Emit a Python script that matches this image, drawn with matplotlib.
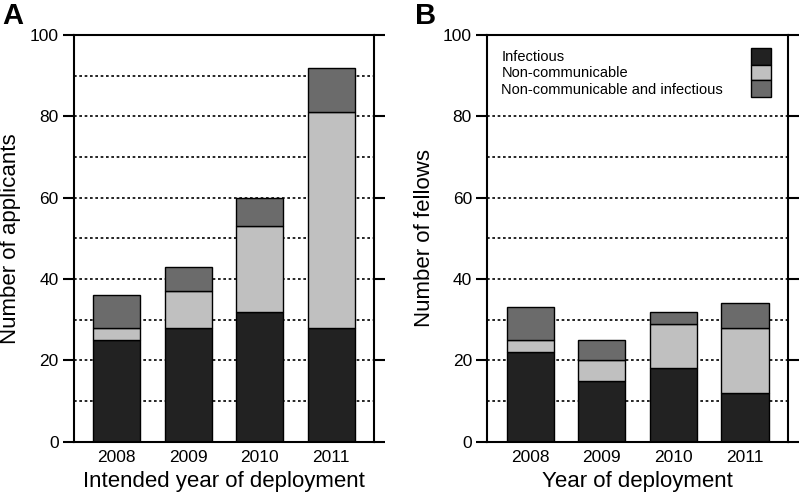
import matplotlib
matplotlib.use("Agg")
import matplotlib.pyplot as plt
from matplotlib.patches import Rectangle

plt.rcParams['font.family'] = ['Liberation Sans', 'DejaVu Sans']

years = ["2008", "2009", "2010", "2011"]
categories = ["Infectious", "Non-communicable", "Non-communicable and infectious"]
colors = ["#222222", "#c0c0c0", "#6b6b6b"]

app_infectious = [25, 28, 32, 28]
app_noncomm = [3, 9, 21, 53]
app_both = [8, 6, 7, 11]

fel_infectious = [22, 15, 18, 12]
fel_noncomm = [3, 5, 11, 16]
fel_both = [8, 5, 3, 6]

fig = plt.figure(figsize=(8, 5), dpi=100)
axA = fig.add_axes([0.0925, 0.1166, 0.375, 0.8134])
axB = fig.add_axes([0.609, 0.1166, 0.376, 0.8134])


def draw(ax, series, ylabel, xlabel):
    x = list(range(len(years)))
    bottom = [0] * len(years)
    for vals, c in zip(series, colors):
        ax.bar(x, vals, bottom=bottom, width=0.66, color=c, edgecolor="black",
               linewidth=1.0, zorder=3)
        bottom = [b + v for b, v in zip(bottom, vals)]
    ax.set_xlim(-0.6, 3.6)
    ax.set_ylim(0, 100)
    ax.set_xticks(x)
    ax.set_xticklabels(years, fontsize=12.5)
    ax.set_yticks(range(0, 101, 20))
    ax.tick_params(axis="y", which="major", direction="out", length=8, width=1.5,
                   left=True, right=True, labelsize=12.5, pad=3)
    ax.tick_params(axis="x", length=0, pad=6)
    for s in ax.spines.values():
        s.set_linewidth(1.5)
        s.set_zorder(6)
    for yv in range(10, 100, 10):
        ax.axhline(yv, color="black", lw=1.2, ls=(0, (1.6, 1.6)), zorder=1)
    ax.set_ylabel(ylabel, fontsize=16, labelpad=6)
    ax.set_xlabel(xlabel, fontsize=16, labelpad=4)


draw(axA, [app_infectious, app_noncomm, app_both], "Number of applicants",
     "Intended year of deployment")
draw(axB, [fel_infectious, fel_noncomm, fel_both], "Number of fellows",
     "Year of deployment")

# Legend (panel B), white background covering gridline
axB.add_patch(Rectangle((0.0, 0.83), 1.0, 0.16, transform=axB.transAxes,
                        facecolor="white", edgecolor="none", zorder=4))
text_y = [0.946, 0.907, 0.865]
sw_edges = [0.967, 0.926, 0.889, 0.847]
for i, (lab, c) in enumerate(zip(categories, colors)):
    axB.text(0.047, text_y[i], lab, transform=axB.transAxes, fontsize=10.5,
             va="center", ha="left", zorder=5)
    axB.add_patch(Rectangle((0.877, sw_edges[i + 1]), 0.067,
                            sw_edges[i] - sw_edges[i + 1],
                            transform=axB.transAxes, facecolor=c,
                            edgecolor="black", linewidth=1.0, zorder=5))

fig.text(0.003, 0.995, "A", fontsize=21, fontweight="bold", va="top", ha="left")
fig.text(0.519, 0.995, "B", fontsize=21, fontweight="bold", va="top", ha="left")

fig.savefig("out.png", dpi=100)
